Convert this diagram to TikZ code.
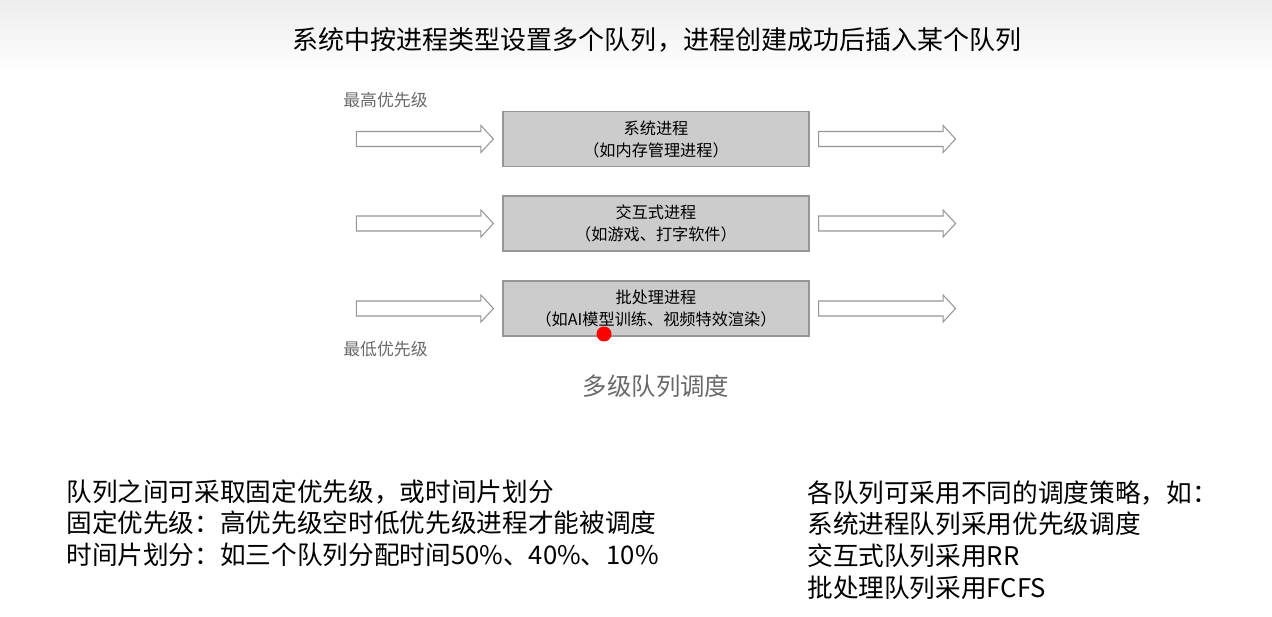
\documentclass[tikz,border=0pt]{standalone}
\usepackage{fontspec}
\setmainfont{Noto Sans CJK SC}
\usetikzlibrary{positioning}
\definecolor{BoxFill}{RGB}{204, 204, 204}
\definecolor{BoxLine}{RGB}{150, 150, 150}
\definecolor{LabelGray}{RGB}{105, 105, 105}

\tikzset{
    queuebox/.style={draw=BoxLine, fill=BoxFill, line width=0.7pt, minimum width=6.12cm, minimum height=1.1cm,
        align=center, font=\fontsize{9.2}{12.5}\selectfont, inner sep=0pt},
    blockarr/.pic={
        \draw[BoxLine, line width=0.6pt, fill=white]
            (0,-7.5) -- (124.5,-7.5) -- (124.5,-13.5) -- (137,0) -- (124.5,13.5) -- (124.5,7.5) -- (0,7.5) -- cycle;
    },
    notetext/.style={anchor=north west, align=left, inner sep=0pt, font=\fontsize{14.6}{18.1}\selectfont}
}

\begin{document}
\begin{tikzpicture}[x=0.02cm, y=-0.02cm]
        \useasboundingbox (0,0) rectangle (1272,617);
        \shade[top color=black!7, bottom color=white] (0,0) rectangle (1272,75);

        % heading
        \node[font=\fontsize{14.8}{18}\selectfont] (heading) at (657,40) {系统中按进程类型设置多个队列，进程创建成功后插入某个队列};

        % the three queues
        \node[queuebox] (sys) at (656,139) {系统进程\\（如内存管理进程）};
        \node[queuebox] (inter) at (656,223.5) {交互式进程\\（如游戏、打字软件）};
        \node[queuebox] (batch) at (656,308.5) {批处理进程\\（如AI模型训练、视频特效渲染）};

        \foreach \q in {sys, inter, batch} {
            \path (\q.west) ++(-146,0) pic {blockarr};
            \path (\q.east) ++(9,0) pic {blockarr};
        }

        \node[anchor=west, text=LabelGray, inner sep=0pt, font=\fontsize{9.6}{11}\selectfont] (high) at (343,100) {最高优先级};
        \node[anchor=west, text=LabelGray, inner sep=0pt, font=\fontsize{9.6}{11}\selectfont] (low) at (343,349) {最低优先级};
        \node[text=LabelGray, font=\fontsize{13.9}{16}\selectfont] (caption) at (656,386) {多级队列调度};

        \node[circle, fill=red, inner sep=0pt, minimum size=0.3cm] (pointer) at (604,334) {};

        % notes below
        \node[notetext] (between) at (66,479) {队列之间可采取固定优先级，或时间片划分\\固定优先级：高优先级空时低优先级进程才能被调度\\时间片划分：如三个队列分配时间50\%、40\%、10\%};
        \node[notetext] (policy) at (807,480) {各队列可采用不同的调度策略，如：\\系统进程队列采用优先级调度\\交互式队列采用RR\\批处理队列采用FCFS};
    \end{tikzpicture}
\end{document}
